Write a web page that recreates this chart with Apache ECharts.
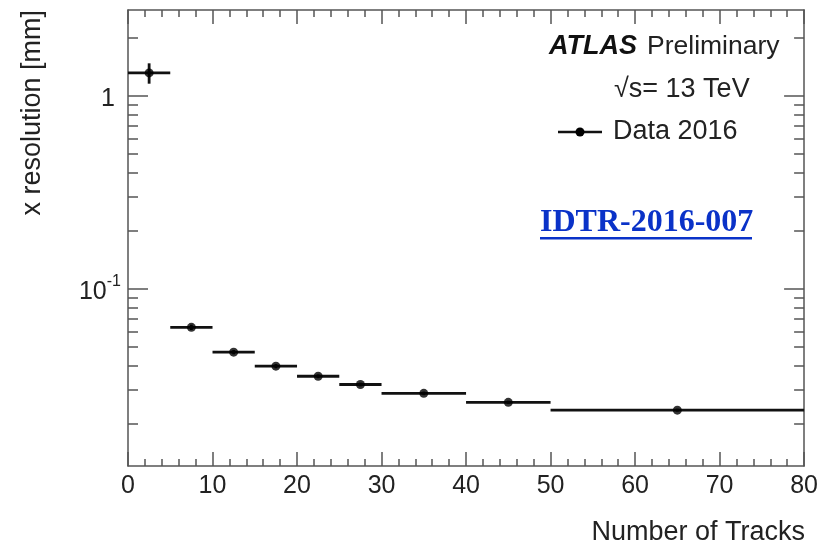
<!DOCTYPE html>
<html>
<head>
<meta charset="utf-8">
<script src="https://cdn.jsdelivr.net/npm/echarts@6/dist/echarts.min.js"></script>
<style>html,body{margin:0;padding:0;background:#fff;}#c{width:821px;height:547px;}</style>
</head>
<body>
<div id="c"></div>
<script>
// ---- data ----
const binLow    = [0, 5, 10, 15, 20, 25, 30, 40, 50];
const binHigh   = [5, 10, 15, 20, 25, 30, 40, 50, 80];
const binCenter = [2.5, 7.5, 12.5, 17.5, 22.5, 27.5, 35, 45, 65];
const resolution = [1.32, 0.063, 0.0468, 0.0396, 0.0351, 0.0318, 0.0286, 0.0257, 0.0234];
const resErr     = [0.16, 0.002, 0.0012, 0.001, 0.0008, 0.0007, 0.0006, 0.0005, 0.0004];
const yMajorTicks = [0.1, 1];
const yMinorTicks = [0.02,0.03,0.04,0.05,0.06,0.07,0.08,0.09,0.2,0.3,0.4,0.5,0.6,0.7,0.8,0.9,2];
const seriesName = 'Data 2016';

const FONT = '"Liberation Sans", Arial, Helvetica, sans-serif';
const AX = '#555';
const TXT = '#222';

const chart = echarts.init(document.getElementById('c'), null, {renderer: 'canvas'});

const barData = binLow.map((lo, i) => [lo, binHigh[i], binCenter[i], resolution[i], resErr[i]]);
const ptData = binCenter.map((c, i) => [c, resolution[i]]);

function xAxisCfg(pos, showLabel) {
  return {
    type: 'value', position: pos, min: 0, max: 80, interval: 10,
    axisLine: {show: true, onZero: false, lineStyle: {color: AX, width: 1.5}},
    axisTick: {show: true, inside: true, length: 14, lineStyle: {color: AX, width: 1.5}},
    minorTick: {show: true, splitNumber: 5, length: 7, lineStyle: {color: AX, width: 1.5}},
    splitLine: {show: false}, minorSplitLine: {show: false},
    axisLabel: {show: showLabel, fontFamily: FONT, fontSize: 25, color: TXT, margin: 8}
  };
}
function yAxisCfg(pos, major, showLine, showLabel) {
  return {
    type: 'log', logBase: 10, position: pos, min: 0.012, max: 2.8,
    axisLine: {show: showLine, onZero: false, lineStyle: {color: AX, width: 1.5}},
    axisTick: {show: true, inside: true, length: major ? 20 : 10,
      customValues: major ? yMajorTicks : yMinorTicks, lineStyle: {color: AX, width: 1.5}},
    splitLine: {show: false},
    axisLabel: {show: showLabel, customValues: yMajorTicks, fontFamily: FONT, fontSize: 25, color: TXT, margin: 7,
      formatter: function (v) {
        const e = Math.round(Math.log10(v));
        if (e === 0) return '{one|1}';
        return '{base|10}{sup|' + e + '}';
      },
      rich: {
        one: {fontFamily: FONT, fontSize: 25, color: TXT, padding: [6, 6, 0, 0]},
        base: {fontFamily: FONT, fontSize: 25, color: TXT, padding: [6, 0, 0, 0]},
        sup: {fontFamily: FONT, fontSize: 16, color: TXT, verticalAlign: 'top', padding: [0, 0, 10, 0]}
      }
    }
  };
}

const option = {
  backgroundColor: '#fff',
  animation: false,
  grid: {left: 128, top: 10, width: 677, height: 456, show: false},
  xAxis: [xAxisCfg('bottom', true), xAxisCfg('top', false)],
  yAxis: [
    yAxisCfg('left', true, true, true),
    yAxisCfg('left', false, false, false),
    yAxisCfg('right', true, true, false),
    yAxisCfg('right', false, false, false)
  ],
  series: [
    {
      type: 'custom', name: seriesName, xAxisIndex: 0, yAxisIndex: 0,
      data: barData, encode: {x: [0, 1, 2], y: 3},
      renderItem: function (params, api) {
        const lo = api.coord([api.value(0), api.value(3)]);
        const hi = api.coord([api.value(1), api.value(3)]);
        const up = api.coord([api.value(2), api.value(3) + api.value(4)]);
        const dn = api.coord([api.value(2), api.value(3) - api.value(4)]);
        const st = {stroke: '#111', lineWidth: 2.8};
        return {type: 'group', children: [
          {type: 'line', shape: {x1: lo[0], y1: lo[1], x2: hi[0], y2: hi[1]}, style: st},
          {type: 'line', shape: {x1: up[0], y1: up[1], x2: dn[0], y2: dn[1]}, style: st}
        ]};
      },
      z: 2
    },
    {
      type: 'scatter', name: seriesName, xAxisIndex: 0, yAxisIndex: 0,
      data: ptData, symbol: 'circle', symbolSize: 9,
      itemStyle: {color: '#000'}, z: 3
    }
  ],
  graphic: [
    {type: 'text', x: 33, y: 10, rotation: Math.PI / 2,
      style: {text: 'x resolution [mm]', font: '27px ' + FONT, fill: TXT, align: 'right', verticalAlign: 'middle'}},
    {type: 'text', x: 805, y: 533,
      style: {text: 'Number of Tracks', font: '27px ' + FONT, fill: TXT, align: 'right', verticalAlign: 'middle'}},
    {type: 'text', x: 549, y: 47,
      style: {text: 'ATLAS', font: 'italic bold 27px ' + FONT, fill: '#111', align: 'left', verticalAlign: 'middle'}},
    {type: 'text', x: 647, y: 47,
      style: {text: 'Preliminary', font: '26.5px ' + FONT, fill: TXT, align: 'left', verticalAlign: 'middle'}},
    {type: 'text', x: 614, y: 90,
      style: {text: '\u221As= 13 TeV', font: '27px ' + FONT, fill: TXT, align: 'left', verticalAlign: 'middle'}},
    {type: 'line', shape: {x1: 558, y1: 132, x2: 602, y2: 132}, style: {stroke: '#111', lineWidth: 2.5}},
    {type: 'circle', shape: {cx: 580, cy: 132, r: 4.5}, style: {fill: '#000'}},
    {type: 'text', x: 613, y: 132,
      style: {text: seriesName, font: '27px ' + FONT, fill: TXT, align: 'left', verticalAlign: 'middle'}},
    {type: 'text', x: 540, y: 223,
      style: {text: 'IDTR-2016-007', font: 'bold 32px "Liberation Serif", "Times New Roman", serif', fill: '#0a32c8', align: 'left', verticalAlign: 'middle'}},
    {type: 'rect', shape: {x: 540, y: 237, width: 212, height: 2.5}, style: {fill: '#0a32c8'}}
  ]
};
chart.setOption(option);
</script>
</body>
</html>
